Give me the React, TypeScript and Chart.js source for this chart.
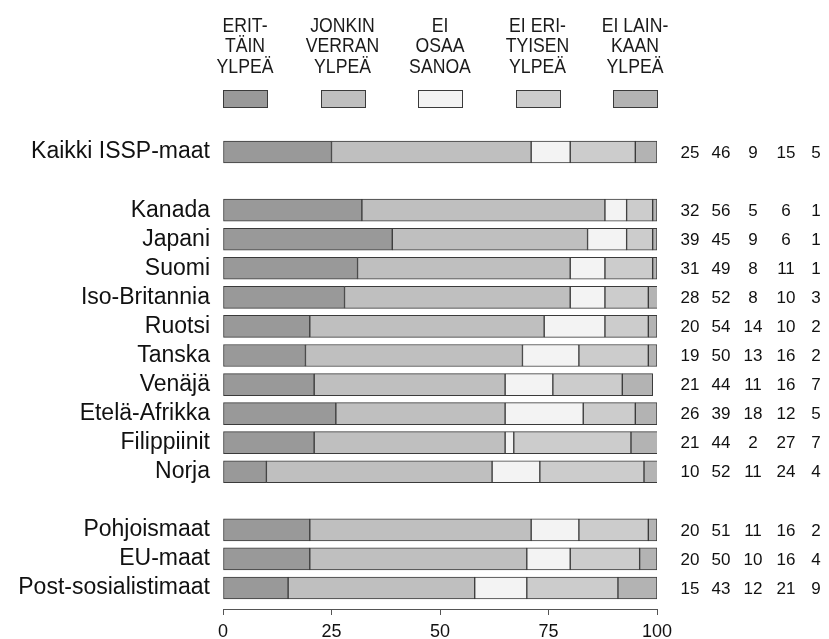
import { useEffect, useRef } from 'react';
import { Chart, registerables } from 'chart.js';

Chart.register(...registerables);

const rowLabels = [
  'Kaikki ISSP-maat', '',
  'Kanada', 'Japani', 'Suomi', 'Iso-Britannia', 'Ruotsi', 'Tanska', 'Venäjä',
  'Etelä-Afrikka', 'Filippiinit', 'Norja', '',
  'Pohjoismaat', 'EU-maat', 'Post-sosialistimaat',
];

const erittainYlpea = [25, null, 32, 39, 31, 28, 20, 19, 21, 26, 21, 10, null, 20, 20, 15];
const jonkinVerranYlpea = [46, null, 56, 45, 49, 52, 54, 50, 44, 39, 44, 52, null, 51, 50, 43];
const eiOsaaSanoa = [9, null, 5, 9, 8, 8, 14, 13, 11, 18, 2, 11, null, 11, 10, 12];
const eiErityisenYlpea = [15, null, 6, 6, 11, 10, 10, 16, 16, 12, 27, 24, null, 16, 16, 21];
const eiLainkaanYlpea = [5, null, 1, 1, 1, 3, 2, 2, 7, 5, 7, 4, null, 2, 4, 9];

const seriesLabels = [
  ['ERIT-', 'TÄIN', 'YLPEÄ'],
  ['JONKIN', 'VERRAN', 'YLPEÄ'],
  ['EI', 'OSAA', 'SANOA'],
  ['EI ERI-', 'TYISEN', 'YLPEÄ'],
  ['EI LAIN-', 'KAAN', 'YLPEÄ'],
];
const seriesValues = [erittainYlpea, jonkinVerranYlpea, eiOsaaSanoa, eiErityisenYlpea, eiLainkaanYlpea];
const seriesColors = ['#999999', '#bfbfbf', '#f3f3f3', '#cccccc', '#b3b3b3'];
const xTickValues = [0, 25, 50, 75, 100];

const FONT = "'Liberation Sans', Arial, sans-serif";

const overlayPlugin = {
  id: 'overlay',
  afterDraw(chart: any) {
    const ctx = chart.ctx;
    const area = chart.chartArea;
    const yScale = chart.scales.y;
    ctx.save();
    // legend
    const boxW = 44;
    const boxH = 17;
    const step = (area.right - area.left - boxW) / (seriesLabels.length - 1);
    seriesLabels.forEach((lines, i) => {
      const cx = area.left + boxW / 2 + i * step;
      ctx.fillStyle = '#1a1a1a';
      ctx.font = `21px ${FONT}`;
      ctx.textAlign = 'center';
      ctx.textBaseline = 'middle';
      lines.forEach((ln, j) => {
        ctx.save();
        ctx.translate(cx, 26 + j * 20.5);
        ctx.scale(0.84, 1);
        ctx.fillText(ln, 0, 0);
        ctx.restore();
      });
      ctx.fillStyle = seriesColors[i];
      ctx.fillRect(Math.round(cx - boxW / 2) + 0.5, 90.5, boxW, boxH);
      ctx.strokeStyle = '#3a3a3a';
      ctx.lineWidth = 1;
      ctx.strokeRect(Math.round(cx - boxW / 2) + 0.5, 90.5, boxW, boxH);
    });
    // values on the right
    const colX = [690, 721, 753, 786, 816];
    ctx.fillStyle = '#111';
    ctx.font = `17px ${FONT}`;
    ctx.textAlign = 'center';
    ctx.textBaseline = 'middle';
    rowLabels.forEach((_, r) => {
      if (seriesValues[0][r] == null) return;
      const y = yScale.getPixelForValue(r);
      seriesValues.forEach((vals, k) => {
        ctx.fillText(String(vals[r]), colX[k], y + 1);
      });
    });
    ctx.restore();
  },
};

export default function App() {
  const ref = useRef<HTMLCanvasElement | null>(null);
  useEffect(() => {
    if (!ref.current) return;
    const datasets = seriesValues.map((vals, k) => ({
      label: seriesLabels[k].join(' '),
      data: vals
        .map((v, i) => (v == null ? null : { x: v, y: i }))
        .filter((d) => d != null),
      backgroundColor: seriesColors[k],
      borderColor: '#3a3a3a',
      borderWidth: 1,
      borderSkipped: false,
      barThickness: 22,
    }));
    const chart = new Chart(ref.current, {
      type: 'bar',
      data: { datasets: datasets as any },
      options: {
        indexAxis: 'y',
        animation: false,
        responsive: true,
        maintainAspectRatio: false,
        layout: { padding: { top: 137.5, right: 172, left: 0, bottom: 0 } },
        plugins: { legend: { display: false }, tooltip: { enabled: false } },
        scales: {
          x: {
            type: 'linear',
            stacked: true,
            min: 0,
            max: 100,
            afterBuildTicks: (s: any) => {
              s.ticks = xTickValues.map((v) => ({ value: v }));
            },
            afterFit: (s: any) => {
              s.height = 30;
              s.paddingLeft = 0;
              s.paddingRight = 0;
            },
            grid: { drawOnChartArea: false, drawTicks: true, tickLength: 6, color: '#555' },
            border: { display: true, color: '#555', width: 1 },
            ticks: { color: '#111', font: { size: 18, family: FONT }, padding: 6, maxRotation: 0 },
          },
          y: {
            type: 'linear',
            stacked: true,
            reverse: true,
            offset: false,
            min: -0.5,
            max: 15.722,
            afterBuildTicks: (s: any) => {
              s.ticks = rowLabels.map((_, i) => ({ value: i }));
            },
            afterFit: (s: any) => {
              s.width = 223;
              s.paddingTop = 0;
              s.paddingBottom = 0;
            },
            grid: { display: false, drawTicks: false },
            border: { display: false },
            ticks: {
              color: '#111',
              font: { size: 23, family: FONT },
              padding: 13,
              autoSkip: false,
              callback: (v: any) => rowLabels[v] ?? '',
            },
          },
        },
      },
      plugins: [overlayPlugin],
    });
    return () => chart.destroy();
  }, []);
  return (
    <div style={{ position: 'fixed', left: 0, top: 0, width: 829, height: 639, background: '#fff' }}>
      <canvas ref={ref} />
    </div>
  );
}
